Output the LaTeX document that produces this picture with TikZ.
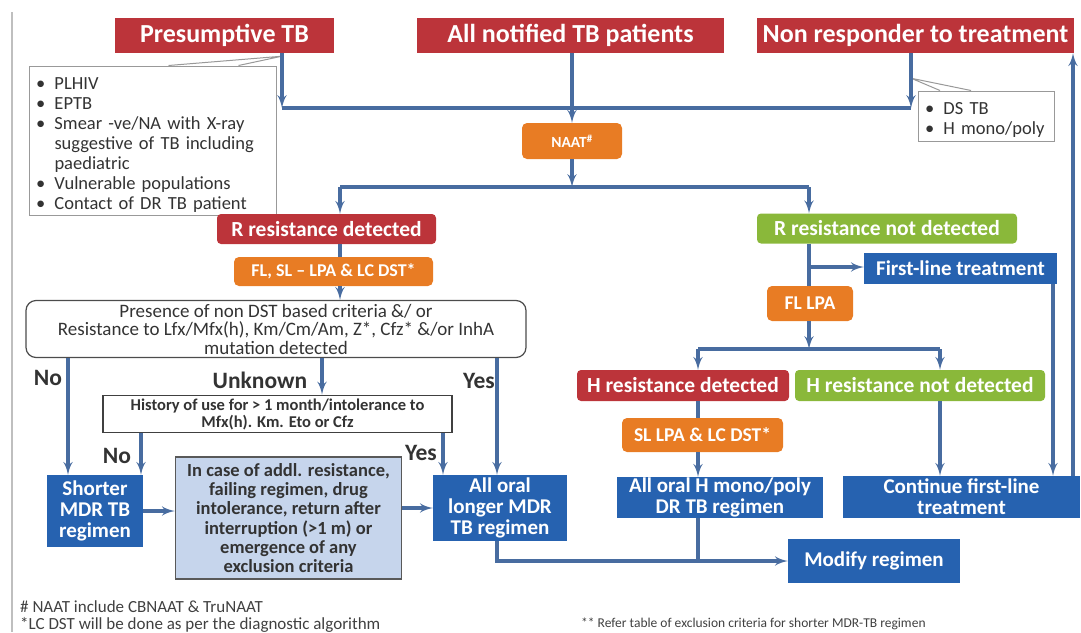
\documentclass[tikz,border=0pt]{standalone}
\usepackage{fontspec}
\setmainfont{Carlito}
\usetikzlibrary{shapes,arrows}
\definecolor{tbred}{RGB}{188,52,58}
\definecolor{tborange}{RGB}{232,124,36}
\definecolor{tbgreen}{RGB}{138,184,58}
\definecolor{tbblue}{RGB}{38,98,176}
\definecolor{tbpale}{RGB}{198,213,236}
\definecolor{tbline}{RGB}{72,108,160}
\newcommand{\critem}[1]{\par\noindent\hangindent=1em\hangafter=1\makebox[1em][l]{\textbullet}#1}
\tikzstyle{title} = [rectangle, fill=tbred, text=white, inner sep=0pt,
    font=\fontsize{26}{28}\selectfont\bfseries, minimum height=35pt]
\tikzstyle{result} = [rectangle, rounded corners=4pt, text=white, inner sep=0pt,
    font=\fontsize{21.5}{24}\selectfont\bfseries, minimum height=30pt]
\tikzstyle{test} = [rectangle, rounded corners=5pt, fill=tborange, text=white, inner sep=0pt,
    font=\fontsize{18}{20}\selectfont\bfseries]
\tikzstyle{regimen} = [rectangle, fill=tbblue, text=white, inner sep=0pt, align=center,
    font=\fontsize{21}{21}\selectfont\bfseries]
\tikzstyle{note} = [rectangle, draw=gray!80, fill=white, text=black!80, line width=1pt,
    font=\fontsize{18.5}{20}\selectfont, inner xsep=7pt, inner ysep=0pt]
\tikzstyle{answer} = [font=\fontsize{23.5}{25}\selectfont\bfseries, text=black!80]
\tikzstyle{footnote} = [anchor=west, font=\fontsize{17}{18}\selectfont, text=black!75, inner sep=0pt]
\tikzstyle{line} = [draw, -latex', line width=3.4pt, tbline]
\tikzstyle{plain} = [draw, line width=3.4pt, tbline]

\begin{document}
\begin{tikzpicture}[x=1pt, y=-1pt]
 \useasboundingbox (0,0) rectangle (1081,632);
 \draw [gray!50, line width=1.5pt] (12,12) -- (12,632);
 % entry groups
 \node at (224.5,35.5) [title, minimum width=219pt, name=pres] {Presumptive TB};
 \node at (570.5,35.5) [title, minimum width=307pt, name=notif] {All notified TB patients};
 \node at (915.5,35.5) [title, minimum width=317pt, name=nonresp] {Non responder to treatment};
 \node at (152.5,140.5) [note, text width=233pt, minimum height=149pt, name=crit] {%
   \critem{PLHIV}\critem{EPTB}\critem{Smear -ve/NA with X-ray\hfill\break suggestive of TB including\hfill\break paediatric}%
   \critem{Vulnerable populations}\critem{Contact of DR TB patient}};
 \node at (986,116) [note, text width=122pt, minimum height=50pt, name=ds] {%
   \critem{DS TB}\critem{H mono/poly}};
 \coordinate (jl) at (282,108);
 \coordinate (jm) at (572,108);
 \coordinate (jr) at (911,108);
 % callouts
 \path [fill=white] ([xshift=16pt]crit.north) -- ([yshift=-3pt]pres.south -| jl) -- ([xshift=86pt]crit.north) -- cycle;
 \draw [gray!80, line width=1pt] ([xshift=16pt]crit.north) -- ([yshift=-3pt]pres.south -| jl) -- ([xshift=86pt]crit.north);
 \path [fill=white] ([xshift=-46pt]ds.north) -- ([yshift=-25pt]nonresp.south -| jr) -- ([xshift=-15pt]ds.north) -- cycle;
 \draw [gray!80, line width=1pt] ([xshift=-46pt]ds.north) -- ([yshift=-25pt]nonresp.south -| jr) -- ([xshift=-15pt]ds.north);
 \node at (572,141) [test, font=\fontsize{15.5}{18}\selectfont\bfseries, minimum width=100pt, minimum height=36pt, name=naat] {NAAT\textsuperscript{\#}};
 % R branches
 \node at (326.5,229) [result, fill=tbred, minimum width=219pt, name=rdet] {R resistance detected};
 \node at (887,228.5) [result, fill=tbgreen, minimum width=260pt, name=rnot] {R resistance not detected};
 \node at (333.5,271.5) [test, minimum width=199pt, minimum height=29pt, name=fsl] {FL, SL -- LPA \& LC DST*};
 \node at (960.5,268.5) [regimen, minimum width=193pt, minimum height=31pt, name=first] {First-line treatment};
 \node at (810,303.5) [test, font=\fontsize{19.5}{20}\selectfont\bfseries, minimum width=86pt, minimum height=35pt, name=flpa] {FL LPA};
 \node at (276,329) [rectangle, draw=black!70, line width=1.2pt, rounded corners=10pt, align=center,
    font=\fontsize{19}{18.5}\selectfont, text=black!80, minimum width=500pt, minimum height=56pt, name=presence]
    {Presence of non DST based criteria \&/ or\\Resistance to Lfx/Mfx(h), Km/Cm/Am, Z*, Cfz* \&/or InhA\\mutation detected};
 % H branches
 \node at (683,385.5) [result, fill=tbred, minimum width=212pt, minimum height=31pt, name=hdet] {H resistance detected};
 \node at (920,385.5) [result, fill=tbgreen, minimum width=250pt, minimum height=31pt, name=hnot] {H resistance not detected};
 \node at (702.5,435) [test, font=\fontsize{19.5}{20}\selectfont\bfseries, minimum width=161pt, minimum height=34pt, name=sl] {SL LPA \& LC DST*};
 \node at (277.5,414) [rectangle, draw=black!75, line width=1.2pt, fill=white, align=center,
    font=\fontsize{16.5}{17}\selectfont\bfseries, text=black!80, minimum width=349pt, minimum height=36pt, name=hist]
    {History of use for > 1 month/intolerance to\\Mfx(h). Km. Eto or Cfz};
 % regimens
 \node at (95,511) [regimen, minimum width=96pt, minimum height=72pt, name=shorter] {Shorter\\MDR TB\\regimen};
 \node at (288.5,518) [rectangle, draw=black!65, line width=1.5pt, fill=tbpale, align=center,
    font=\fontsize{18.5}{19.3}\selectfont\bfseries, text=black!80, minimum width=226pt, minimum height=122pt, name=incase]
    {In case of addl. resistance,\\failing regimen, drug\\intolerance, return after\\interruption (>1 m) or\\emergence of any\\exclusion criteria};
 \node at (500,508) [regimen, minimum width=134pt, minimum height=66pt, name=longer] {All oral\\longer MDR\\TB regimen};
 \node at (720,497.5) [regimen, minimum width=206pt, minimum height=41pt, name=hmono] {All oral H mono/poly\\DR TB regimen};
 \node at (961.5,497) [regimen, minimum width=237pt, minimum height=42pt, name=cont] {Continue first-line\\treatment};
 \node at (874,561) [regimen, minimum width=172pt, minimum height=44pt, name=modify] {Modify regimen};
 % answers
 \node at (48,378) [answer, name=lno] {No};
 \node at (260,380) [answer, name=lunk] {Unknown};
 \node at (479,381) [answer, name=lyes] {Yes};
 \node at (117,456) [answer, name=lhno] {No};
 \node at (421,453) [answer, name=lhyes] {Yes};
 % footnotes
 \node at (20,607) [footnote, name=fn1] {\# NAAT include CBNAAT \& TruNAAT};
 \node at (20,625) [footnote, name=fn2] {*LC DST will be done as per the diagnostic algorithm};
 \node at (581,624) [footnote, font=\fontsize{13.5}{16}\selectfont, name=fn3] {** Refer table of exclusion criteria for shorter MDR-TB regimen};
 % connectors
 \coordinate (cl) at (340,187);
 \coordinate (cn) at (572,187);
 \coordinate (cr) at (809,187);
 \coordinate (jf) at (809,267);
 \coordinate (jh) at (809,349);
 \coordinate (hl) at (698,349);
 \coordinate (hr) at (940,349);
 \coordinate (xno) at (68,0);
 \coordinate (xunk) at (322,0);
 \coordinate (xyes) at (497,0);
 \coordinate (xhno) at (141,0);
 \coordinate (xhyes) at (443,0);
 \coordinate (xfirst) at (1053,0);
 \coordinate (xback) at (1073,0);
 \path [line] (pres.south -| jl) -- (jl);
 \path [line] (nonresp.south -| jr) -- (jr);
 \path [plain] (jl) -- (jr);
 \path [line] (notif.south -| jm) -- (naat.north);
 \path [line] (naat.south) -- (cn);
 \path [plain] (cl) -- (cr);
 \path [line] (cl) -- (rdet.north -| cl);
 \path [line] (cr) -- (rnot.north -| cr);
 \path [plain] (rdet.south -| cl) -- (fsl.north -| cl);
 \path [line] (fsl.south -| cl) -- (presence.north -| cl);
 \path [line] (presence.south -| xno) -- (shorter.north -| xno);
 \path [line] (presence.south -| xunk) -- (hist.north -| xunk);
 \path [line] (presence.south -| xyes) -- (longer.north -| xyes);
 \path [line] (hist.south -| xhno) -- (shorter.north -| xhno);
 \path [line] (hist.south -| xhyes) -- (longer.north -| xhyes);
 \path [line] (shorter.east) -- (shorter.east -| incase.west);
 \path [line] (longer.west -| incase.east) -- (longer.west);
 \path [line] (longer.south -| xyes) |- (modify.west);
 \path [plain] (hmono.south -| hl) -- (modify.west -| hl);
 \path [plain] (rnot.south -| cr) -- (flpa.north -| cr);
 \path [line] (jf) -- (jf -| first.west);
 \path [line] (flpa.south -| jh) -- (jh);
 \path [plain] (hl) -- (hr);
 \path [line] (hl) -- (hdet.north -| hl);
 \path [line] (hr) -- (hnot.north -| hr);
 \path [plain] (hdet.south -| hl) -- (sl.north -| hl);
 \path [line] (sl.south -| hl) -- (hmono.north -| hl);
 \path [line] (hnot.south -| hr) -- (cont.north -| hr);
 \path [line] (first.south -| xfirst) -- (cont.north -| xfirst);
 \path [line] (cont.north -| xback) -- (nonresp.south -| xback);
\end{tikzpicture}
\end{document}
